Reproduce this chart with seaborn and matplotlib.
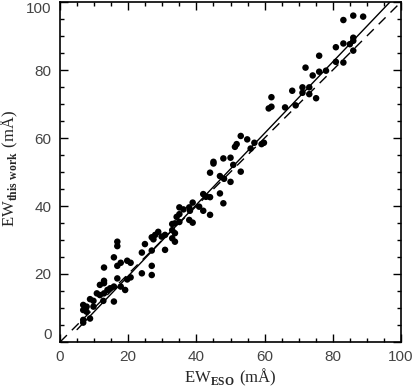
import numpy as np
import pandas as pd
import matplotlib
matplotlib.use("Agg")
import matplotlib.pyplot as plt
import seaborn as sns

# Equivalent widths (mA)
ew_eso = [
    83.1, 86.0, 88.9, 80.9, 83.1, 85.0, 86.0, 86.0, 86.0, 80.9, 83.1, 76.0,
    72.0, 74.1, 76.0, 78.0, 71.1, 73.1, 68.1, 71.1, 73.1, 75.1, 62.0, 61.2,
    62.0, 66.0, 69.1,
    53.0, 54.9, 51.8, 51.3, 57.0, 55.9, 59.1, 59.8, 45.0, 45.0, 47.9, 50.0,
    50.8, 44.0, 53.0, 46.9, 48.1, 50.0, 46.9, 47.9, 42.0, 42.8, 44.0, 40.8,
    42.0, 44.0, 38.9, 37.9, 38.1, 35.0, 36.2, 35.0, 34.2, 37.9, 38.9, 32.9,
    33.7, 35.0, 32.9, 33.7, 32.9, 33.7, 28.8, 27.9, 29.8, 30.8, 26.9, 27.4,
    24.9, 16.8, 16.8, 30.8,
    15.8, 12.9, 16.8, 17.8, 19.7, 20.7, 26.9, 24.0, 26.9, 26.9, 24.0, 19.7,
    20.7, 16.8, 17.8, 19.1, 15.8, 12.9, 11.7, 12.9, 13.9, 14.7, 10.8, 11.7,
    12.9, 12.7, 15.8, 8.8, 9.8, 6.8, 7.8, 6.8, 7.8, 9.8, 6.8, 6.8, 8.8,
]
ew_this_work = [
    94.7, 96.0, 95.7, 86.7, 87.8, 87.6, 88.6, 89.5, 85.7, 82.4, 82.2, 84.2,
    80.7, 78.4, 79.5, 79.8, 74.9, 74.9, 73.9, 73.3, 72.9, 71.7, 72.0, 68.7,
    69.2, 69.0, 69.6,
    60.6, 59.6, 58.2, 57.4, 58.6, 56.9, 58.2, 58.6, 53.0, 52.5, 54.0, 54.2,
    52.1, 49.8, 50.1, 48.8, 48.0, 47.1, 43.7, 40.8, 43.5, 42.7, 42.6, 39.8,
    38.6, 37.4, 41.0, 39.6, 38.6, 39.6, 39.0, 37.6, 36.8, 35.9, 35.1, 34.7,
    34.9, 35.3, 32.9, 32.0, 30.5, 29.5, 32.4, 31.5, 31.0, 31.5, 30.8, 30.2,
    28.8, 29.5, 28.2, 27.1,
    24.9, 21.9, 22.4, 23.3, 23.9, 23.3, 26.9, 26.3, 22.4, 19.7, 20.2, 18.4,
    19.0, 18.7, 16.3, 15.3, 16.3, 18.0, 16.8, 17.3, 15.3, 15.8, 14.3, 13.8,
    14.3, 12.1, 11.9, 12.6, 12.1, 10.9, 10.4, 9.4, 8.9, 10.4, 6.5, 5.7, 6.9,
]

# one-to-one relation and linear fit
one_to_one = [0, 100]
fit_range = [5, 96.8]
fit_slope = 1.05
fit_intercept = -1.6

df = pd.DataFrame({"eso": ew_eso, "this": ew_this_work})
fit_df = pd.DataFrame({"x": fit_range})
fit_df["y"] = fit_intercept + fit_slope * fit_df["x"]

sns.set_style("ticks")
plt.rcParams["mathtext.fontset"] = "custom"
plt.rcParams["mathtext.rm"] = "Liberation Serif"
plt.rcParams["mathtext.bf"] = "Liberation Serif:bold"

fig = plt.figure(figsize=(4.14, 3.87), dpi=100)
ax = fig.add_axes([0.145, 0.1163, 0.8236, 0.8785])

sns.lineplot(x=one_to_one, y=one_to_one, ax=ax, color="black", lw=1.0,
             linestyle=(0, (7, 5)))
sns.lineplot(data=fit_df, x="x", y="y", ax=ax, color="black", lw=1.0)
sns.scatterplot(data=df, x="eso", y="this", ax=ax, color="black", s=22,
                edgecolor="none", zorder=3)

ax.set_xlim(0, 100)
ax.set_ylim(0, 100)
ax.set_xticks(np.arange(0, 101, 20))
ax.set_yticks(np.arange(0, 101, 20))
ax.set_xticks(np.arange(0, 101, 5), minor=True)
ax.set_yticks(np.arange(0, 101, 5), minor=True)
ax.tick_params(which="both", direction="in", top=True, right=True,
               color="black", width=1.0)
ax.tick_params(which="major", length=6, labelsize=11, labelcolor="#444444", pad=6)
ax.tick_params(which="minor", length=3)
for lab in ax.get_xticklabels() + ax.get_yticklabels():
    lab.set_family("Liberation Sans")
ylabs = ax.get_yticklabels()
ylabs[0].set_va("bottom")
ylabs[-1].set_va("top")
for sp in ax.spines.values():
    sp.set_linewidth(1.2)
    sp.set_color("black")

ax.set_xlabel(r"$\mathrm{EW}_{\mathbf{ESO}}\ \mathrm{(m\AA)}$", fontsize=12, labelpad=2)
ax.set_ylabel(r"$\mathrm{EW}_{\mathbf{this\ work}}\ \mathrm{(m\AA)}$", fontsize=12)
ax.yaxis.set_label_coords(-0.118, 0.51)

fig.savefig("out.png", dpi=100)
